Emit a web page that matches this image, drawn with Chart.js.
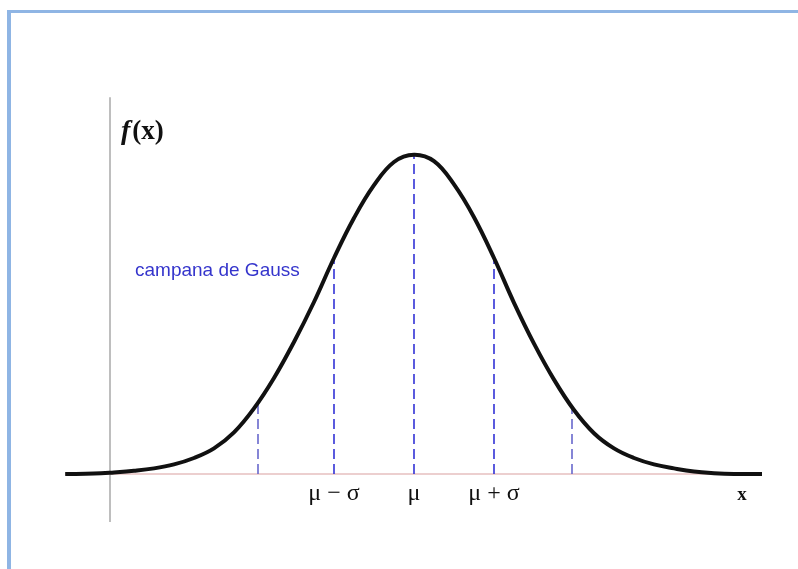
<!DOCTYPE html>
<html>
<head>
<meta charset="utf-8">
<title>Campana de Gauss</title>
<script src="https://cdn.jsdelivr.net/npm/chart.js@4.4.1/dist/chart.umd.min.js"></script>
<style>
  html, body { margin: 0; padding: 0; background: #fff; }
  #wrap { position: relative; width: 798px; height: 569px; overflow: hidden; background: #fff; }
  #frame {
    position: absolute; left: 7px; top: 10px; right: -10px; bottom: -10px;
    border-top: 3px solid #8fb5e4; border-left: 4px solid #8fb5e4;
  }
  #chart { position: absolute; left: 0; top: 0; }
</style>
</head>
<body>
<div id="wrap">
  <div id="frame"></div>
  <canvas id="chart" width="798" height="569"></canvas>
</div>
<script>
// Curve, in units of sigma around mu
const curveX = [-4.36, -4, -3.75, -3.5, -3.25, -3, -2.75, -2.5, -2.25, -2, -1.75, -1.5, -1.25, -1, -0.75, -0.5, -0.25, 0,
                0.25, 0.5, 0.75, 1, 1.25, 1.5, 1.75, 2, 2.25, 2.5, 2.75, 3, 3.25, 3.5, 3.75, 4, 4.35];
const curveY = [0, 0.0005, 0.002, 0.004, 0.007, 0.012, 0.020, 0.032, 0.052, 0.082, 0.120, 0.165, 0.215, 0.270, 0.320, 0.361, 0.390, 0.399,
                0.391, 0.362, 0.321, 0.270, 0.214, 0.163, 0.118, 0.080, 0.051, 0.032, 0.020, 0.012, 0.007, 0.003, 0.001, 0, 0];

// Dashed verticals under the curve
const markX = [-1.95, -1, 0, 1, 1.975];
const markY = [0.088, 0.270, 0.399, 0.270, 0.084];

// Labels under the axis
const tickLabels = ['\u03bc \u2212 \u03c3', '\u03bc', '\u03bc + \u03c3'];
const tickPos = [-1, 0, 1];

const axisLeft = -4.36, axisRight = 4.35;
const yAxisX = -3.8, yAxisTop = 0.471, yAxisBottom = -0.06;

const datasets = [];

datasets.push({
  data: curveX.map((x, i) => ({ x: x, y: curveY[i] })),
  borderColor: '#111',
  borderWidth: 4,
  tension: 0.4,
  pointRadius: 0,
  order: 0
});

markX.forEach((x, i) => {
  datasets.push({
    data: [{ x: x, y: 0 }, { x: x, y: markY[i] }],
    borderColor: (i === 0 || i === 4) ? '#6868cc' : '#3232d6',
    borderWidth: 1.6,
    borderDash: [10, 5],
    pointRadius: 0,
    order: 1
  });
});

// horizontal axis
datasets.push({
  data: [{ x: axisLeft, y: 0 }, { x: axisRight, y: 0 }],
  borderColor: '#d9a0a0',
  borderWidth: 1.2,
  pointRadius: 0,
  order: 2
});

// vertical axis
datasets.push({
  data: [{ x: yAxisX, y: yAxisBottom }, { x: yAxisX, y: yAxisTop }],
  borderColor: '#a8a8a8',
  borderWidth: 1.5,
  pointRadius: 0,
  order: 2
});

const labelsPlugin = {
  id: 'labels',
  afterDraw(chart) {
    const ctx = chart.ctx;
    const xs = chart.scales.x, ys = chart.scales.y;
    ctx.save();
    ctx.fillStyle = '#111';
    ctx.textAlign = 'center';
    ctx.textBaseline = 'alphabetic';
    ctx.font = '24px "Liberation Serif", "DejaVu Serif", serif';
    tickLabels.forEach((t, i) => {
      ctx.fillText(t, xs.getPixelForValue(tickPos[i]), ys.getPixelForValue(0) + 26);
    });
    ctx.font = 'bold 19px "Liberation Serif", serif';
    ctx.fillText('x', xs.getPixelForValue(4.1), ys.getPixelForValue(0) + 26);

    // f(x)
    ctx.textAlign = 'left';
    ctx.font = 'italic bold 28px "Liberation Serif", serif';
    ctx.fillText('f', 121, 139);
    const fw = ctx.measureText('f').width;
    ctx.font = 'bold 27px "Liberation Serif", serif';
    ctx.fillText('(x)', 121 + fw + 2, 139);

    ctx.fillStyle = '#3535cc';
    ctx.font = '19px "Liberation Sans", Arial, sans-serif';
    ctx.fillText('campana de Gauss', 135, 276);
    ctx.restore();
  }
};

new Chart(document.getElementById('chart'), {
  type: 'scatter',
  data: { datasets: datasets },
  options: {
    responsive: false,
    animation: false,
    showLine: true,
    layout: { padding: { left: 54, right: 24, top: 74, bottom: 39 } },
    scales: {
      x: { type: 'linear', min: -4.5, max: 4.5, display: false },
      y: { type: 'linear', min: -0.07, max: 0.5, display: false }
    },
    plugins: { legend: { display: false }, tooltip: { enabled: false } }
  },
  plugins: [labelsPlugin]
});
</script>
</body>
</html>
